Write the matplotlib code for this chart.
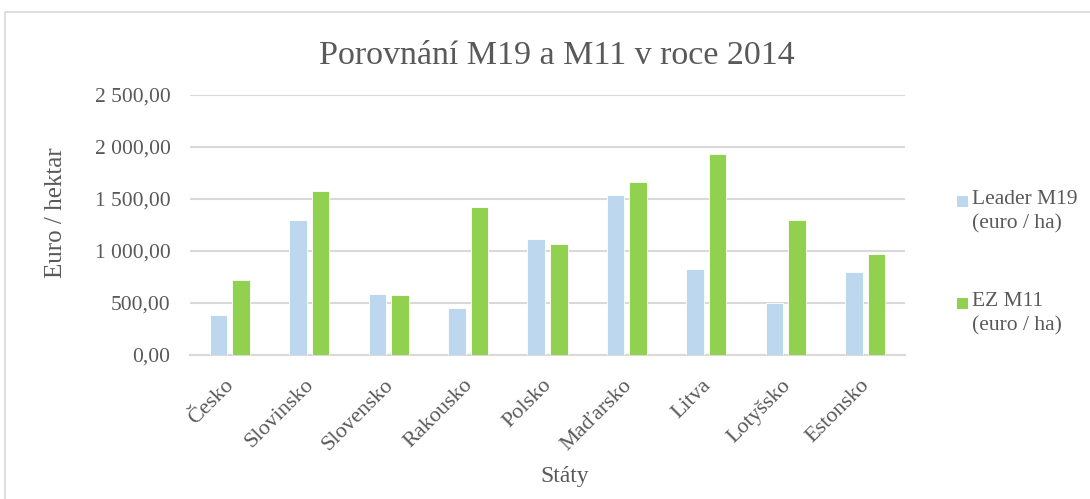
import numpy as np
import matplotlib
matplotlib.use("Agg")
import matplotlib.pyplot as plt
import matplotlib.transforms as mtransforms
from matplotlib.patches import Rectangle
from matplotlib.ticker import FuncFormatter

plt.rcParams["font.family"] = ["Liberation Serif", "DejaVu Serif"]

states = ["Česko", "Slovinsko", "Slovensko", "Rakousko", "Polsko",
          "Maďarsko", "Litva", "Lotyšsko", "Estonsko"]
leader_m19 = [385, 1298, 590, 452, 1118, 1535, 827, 503, 798]
ez_m11 = [721, 1580, 573, 1420, 1064, 1660, 1936, 1298, 974]
series_names = ["Leader M19\n(euro / ha)", "EZ M11\n(euro / ha)"]

txt = "#595959"
grid_c = "#d9d9d9"
blue = "#BDD7EE"
green = "#92D050"
colors = [blue, green]

W, H = 1090, 499
fig = plt.figure(figsize=(W/100, H/100), dpi=100)
ax = fig.add_axes([190/W, 1-355/H, 715/W, 260/H])

# outer chart frame (cut off at right/bottom like the screenshot)
fig.patches.append(Rectangle((5/W, -0.1), 1.2, 1.1-12/H, transform=fig.transFigure,
                             fill=False, edgecolor=grid_c, linewidth=1.2))

x = np.arange(len(states))
w = 0.22
off = 0.142
ax.bar(x - off, leader_m19, w, color=blue, edgecolor="white", linewidth=0.6, zorder=3)
ax.bar(x + off, ez_m11, w, color=green, edgecolor="white", linewidth=0.6, zorder=3)

ax.set_xlim(-0.5, len(states) - 0.5)
ax.set_ylim(0, 2500)
ax.set_yticks(np.arange(0, 2501, 500))

def fmt(v, pos):
    return "{:,.2f}".format(v).replace(",", " ").replace(".", ",")
ax.yaxis.set_major_formatter(FuncFormatter(fmt))

ax.grid(axis="y", color=grid_c, linewidth=1.5, zorder=0)
for s in ["top", "right", "left"]:
    ax.spines[s].set_visible(False)
ax.spines["bottom"].set_color(grid_c)
ax.spines["bottom"].set_linewidth(1.5)
ax.tick_params(axis="both", length=0, colors=txt, labelsize=15.5)
ax.tick_params(axis="y", pad=14)
ax.tick_params(axis="x", pad=15)
ax.set_xticks(x)
ax.set_xticklabels(states, rotation=45, ha="right", rotation_mode="anchor")
shift = mtransforms.ScaledTranslation(-5/100, 0, fig.dpi_scale_trans)
for lab in ax.get_xticklabels():
    lab.set_fontsize(16)
    lab.set_transform(lab.get_transform() + shift)

ax.set_xlabel("Státy", color=txt, fontsize=17)
ax.xaxis.set_label_coords(0.524, -0.427)
ax.set_ylabel("Euro / hektar", color=txt, fontsize=18)
ax.yaxis.set_label_coords(-0.1725, 0.546)
fig.suptitle("Porovnání M19 a M11 v roce 2014", color=txt, fontsize=24.5, x=0.511, y=0.918)

# legend drawn like Excel: square next to first line of each entry
leg_y = [202, 304]
for name, c, yy in zip(series_names, colors, leg_y):
    fig.patches.append(Rectangle((957/W, 1-(yy+5)/H), 11/W, 11/H, transform=fig.transFigure,
                                 facecolor=c, edgecolor="none"))
    fig.text(972/W, 1-(yy-12)/H, name, color=txt, fontsize=15.5, va="top", ha="left",
             linespacing=1.38)

fig.savefig("out.png", dpi=100)
